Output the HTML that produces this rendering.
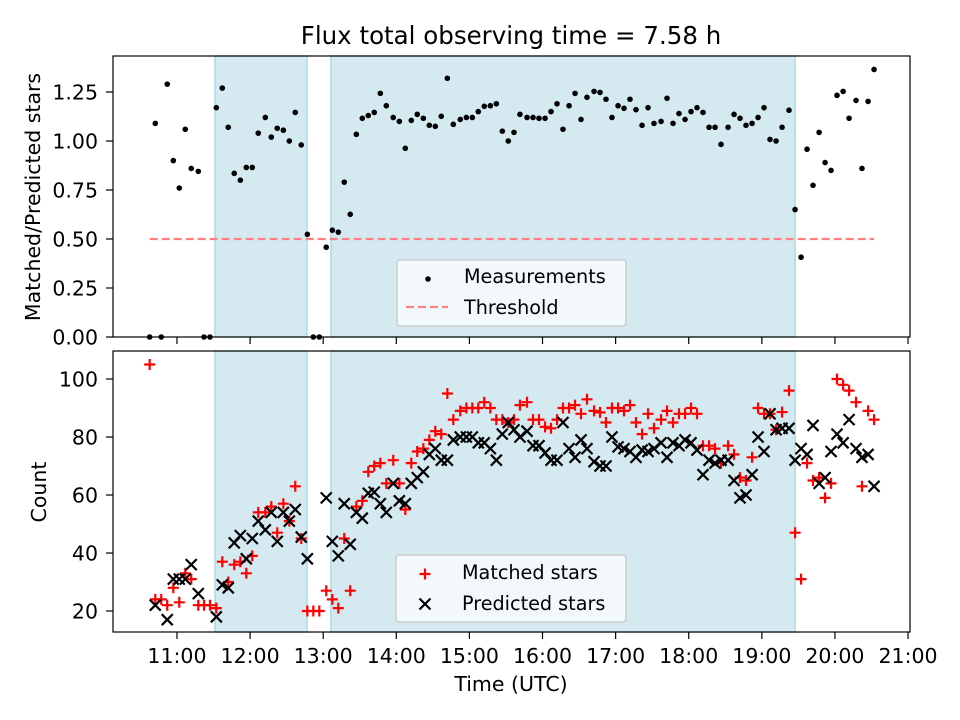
<!DOCTYPE html>
<html><head><meta charset="utf-8"><style>
html,body{margin:0;padding:0;background:#fff;}
svg{display:block;font-family:"DejaVu Sans","Liberation Sans",sans-serif;}
</style></head><body>
<svg id="fig" width="960" height="720" viewBox="0 0 960 720" xmlns="http://www.w3.org/2000/svg"></svg>
<script>
// ---- data ----
const timesMin = [637.6,642.2,647.1,652.0,657.0,661.9,666.8,671.7,677.5,682.2,687.1,692.3,697.2,702.1,707.0,712.0,716.9,721.8,726.7,732.5,737.4,742.3,747.3,752.2,757.1,762.0,767.0,771.9,776.8,782.5,787.5,792.4,797.3,802.2,807.2,812.1,817.0,821.9,826.9,831.8,837.5,842.5,847.4,852.3,857.2,862.2,867.1,872.0,876.9,881.9,886.8,892.5,897.5,902.4,907.3,912.2,917.2,922.1,927.0,931.9,936.6,941.5,947.3,952.2,957.1,962.1,967.0,971.9,976.8,981.8,986.7,991.6,996.5,1002.3,1007.2,1012.1,1017.0,1022.0,1026.9,1031.8,1036.7,1041.7,1046.6,1051.5,1057.3,1062.2,1067.1,1072.0,1077.0,1081.9,1086.8,1091.7,1096.7,1101.6,1106.5,1112.3,1117.2,1122.1,1127.0,1132.0,1136.9,1141.8,1146.7,1151.7,1156.6,1162.3,1167.3,1172.2,1177.1,1182.0,1187.0,1191.9,1196.8,1201.7,1206.7,1211.6,1217.3,1222.2,1227.2,1232.1];
const ratio = [0,1.09,0,1.29,0.90,0.76,1.06,0.86,0.845,0,0,1.17,1.27,1.07,0.835,0.80,0.865,0.865,1.04,1.12,1.02,1.065,1.055,1.0,1.146,0.98,0.524,0,0,0.458,0.545,0.535,0.79,0.626,1.034,1.116,1.13,1.146,1.243,1.18,1.12,1.10,0.963,1.105,1.136,1.116,1.08,1.075,1.126,1.32,1.085,1.11,1.12,1.12,1.15,1.177,1.18,1.19,1.05,1.0,1.044,1.136,1.12,1.12,1.116,1.116,1.15,1.19,1.06,1.18,1.243,1.11,1.223,1.253,1.248,1.213,1.12,1.18,1.167,1.213,1.16,1.08,1.17,1.09,1.10,1.218,1.09,1.14,1.11,1.15,1.17,1.146,1.07,1.07,0.983,1.07,1.136,1.116,1.08,1.09,1.12,1.17,1.008,1.0,1.07,1.157,0.65,0.407,0.958,0.774,1.044,0.89,0.85,1.233,1.253,1.116,1.207,0.86,1.202,1.365];
const matched = [105,24,24,22,28,23,33,31,22,22,22,21,37,30,36,37,33,39,54,54,56,47,57,51,63,45,20,20,20,27,24,21,45,27,56,58,68,70,71,64,72,64,55,71,75,76,79,82,81,95,86,89,90,90,90,92,90,86,86,85,86,91,92,86,86,83.5,83,86,90,90,91,88,93,89,88.5,85,90,90,89,91,85,81,88,83,86,89,85,88,88,90,88,77,77,76,71,77,74,66,65,73,90,88,88,82.5,88.6,96,47,31,71,65,66,59,64,100,98,96,92,63,89,86];
const predicted = [null,22,null,17,31,31,31,36,26,null,null,18,29,28,43.5,46,38,45,51,48,54,44,54,51,55,45.5,38,null,null,59,44,39,57,43,54,52,60.6,61,57,54,64,58,57,64,66,68,74,76,72,72,79,80,80,80,78,78,76,72,81,85,82.5,80,82,77,77,74.5,72,72,85,76,73,79,76,71.5,70,70,80,76.6,76,75,73,75.5,75,76,78,73,78,77,79,78,75.5,67,72,71,72,72,65,59,60,67,80,75,88,82.5,83,83,72,76,74,84,64,66,75,81,78,86,76,73,74,63];
const observingWindows = [[691.2,766.7],[786.4,1167.3]];
const threshold = 0.5;
const xTickLabels = ["11:00","12:00","13:00","14:00","15:00","16:00","17:00","18:00","19:00","20:00","21:00"];
const xTickMinutes = [660,720,780,840,900,960,1020,1080,1140,1200,1260];
const topTicks = [0,0.25,0.5,0.75,1.0,1.25];
const bottomTicks = [20,40,60,80,100];

// ---- axes ----
const L=113,R=910, T1=56,B1=337, T2=351,B2=632;
const xMin=607.5,xMax=1261.6;
const x = m => L + (m-xMin)/(xMax-xMin)*(R-L);
const y1 = v => B1 - (v-0)/(1.4337)*(B1-T1);
const y2 = v => B2 - (v-12.76)/(109.66-12.76)*(B2-T2);

const NS="http://www.w3.org/2000/svg";
const svg=document.getElementById('fig');
function mk(tag, attrs, parent){const e=document.createElementNS(NS,tag);for(const k in attrs)e.setAttribute(k,attrs[k]);(parent||svg).appendChild(e);return e;}

function panel(top,bottom,name){
  const g=mk('g',{});
  
  
  observingWindows.forEach((w,i)=>{
    const r=mk('rect',{x:x(w[0]),y:top,width:x(w[1])-x(w[0]),height:bottom-top,fill:'#d4eaf0',stroke:'#add8e6','stroke-width':1.5},g);
    
    
  });
  return g;
}
function frame(top,bottom,name,showLabels){
  const f=mk('rect',{x:L,y:top,width:R-L,height:bottom-top,fill:'none',stroke:'#000','stroke-width':1.2});
  
  
  xTickMinutes.forEach((m,i)=>{
    mk('line',{x1:x(m),x2:x(m),y1:bottom,y2:bottom+7,stroke:'#000','stroke-width':1.2});
    if(showLabels){
      const t=mk('text',{x:x(m),y:bottom+31,'font-size':20.5,'text-anchor':'middle',fill:'#000'});
      t.textContent=xTickLabels[i];
      
      
    }
  });
}

// top panel
panel(T1,B1,'ratio-panel');
const thr=mk('line',{x1:x(timesMin[0]),x2:x(timesMin[timesMin.length-1]),y1:y1(threshold),y2:y1(threshold),stroke:'#ff8080','stroke-width':2.2,'stroke-dasharray':'8,4'});


ratio.forEach((v,i)=>{
  const c=mk('circle',{cx:x(timesMin[i]),cy:y1(v),r:2.8,fill:'#000'});
  
  
});
frame(T1,B1,'top-axes',false);
topTicks.forEach(v=>{
  mk('line',{x1:L-7,x2:L,y1:y1(v),y2:y1(v),stroke:'#000','stroke-width':1.2});
  const t=mk('text',{x:L-15,y:y1(v)+7.5,'font-size':20.5,'text-anchor':'end'});
  t.textContent=v.toFixed(2);
  
  
});

// bottom panel
panel(T2,B2,'count-panel');
matched.forEach((v,i)=>{
  const cx=x(timesMin[i]),cy=y2(v),s=5.5;
  const p=mk('path',{d:`M${cx-s},${cy}H${cx+s}M${cx},${cy-s}V${cy+s}`,stroke:'#ff0000','stroke-width':2.2});
  
  
});
predicted.forEach((v,i)=>{
  if(v===null)return;
  const cx=x(timesMin[i]),cy=y2(v),s=5.5;
  const p=mk('path',{d:`M${cx-s},${cy-s}L${cx+s},${cy+s}M${cx-s},${cy+s}L${cx+s},${cy-s}`,stroke:'#000','stroke-width':2.2});
  
  
});
frame(T2,B2,'bottom-axes',true);
bottomTicks.forEach(v=>{
  mk('line',{x1:L-7,x2:L,y1:y2(v),y2:y2(v),stroke:'#000','stroke-width':1.2});
  const t=mk('text',{x:L-15,y:y2(v)+7.5,'font-size':20.5,'text-anchor':'end'});
  t.textContent=String(v);
  
  
});
</script>
<svg style="position:absolute;left:0;top:0" width="960" height="720" xmlns="http://www.w3.org/2000/svg" font-family="DejaVu Sans, Liberation Sans, sans-serif">
  <text x="511" y="44" font-size="24.5" text-anchor="middle">Flux total observing time = 7.58 h</text>
  <text transform="translate(40,197) rotate(-90)" font-size="20.5" text-anchor="middle">Matched/Predicted stars</text>
  <text transform="translate(46,492) rotate(-90)" font-size="20.5" text-anchor="middle">Count</text>
  <text x="511" y="691" font-size="20.5" text-anchor="middle">Time (UTC)</text>
  <g>
    <rect x="397" y="260" width="229" height="66" rx="3" fill="#f5f9fc" fill-opacity="0.9" stroke="#cccccc" stroke-width="1.5"/>
    <circle cx="428" cy="279" r="2.8" fill="#000"/>
    <text x="464" y="283" font-size="19.2">Measurements</text>
    <line x1="406" x2="448" y1="307" y2="307" stroke="#ff8080" stroke-width="2.2" stroke-dasharray="8,4"/>
    <text x="464" y="314" font-size="19.2">Threshold</text>
  </g>
  <g>
    <rect x="396" y="555" width="230" height="67" rx="3" fill="#f5f9fc" fill-opacity="0.9" stroke="#cccccc" stroke-width="1.5"/>
    <path d="M419.5,574H430.5M425,568.5V579.5" stroke="#ff0000" stroke-width="2.2"/>
    <text x="462" y="579" font-size="19.2">Matched stars</text>
    <path d="M419.5,598.5L430.5,609.5M419.5,609.5L430.5,598.5" stroke="#000" stroke-width="2.2"/>
    <text x="462" y="610" font-size="19.2">Predicted stars</text>
  </g>
</svg>
</body></html>
